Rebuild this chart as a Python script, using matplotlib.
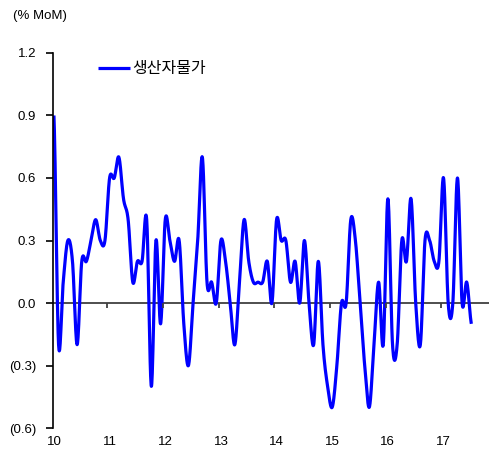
import numpy as np
import matplotlib
matplotlib.use("Agg")
import matplotlib.pyplot as plt

plt.rcParams['font.family'] = ['Liberation Sans', 'Noto Sans CJK KR']

# monthly PPI change, Jan 2010 .. Jul 2017
ppi = [0.9, -0.2, 0.1, 0.3, 0.2, -0.2, 0.2, 0.2, 0.3, 0.4, 0.3, 0.3,
       0.6, 0.6, 0.7, 0.5, 0.4, 0.1, 0.2, 0.2, 0.4, -0.4, 0.3, -0.1,
       0.4, 0.3, 0.2, 0.3, -0.1, -0.3, 0.0, 0.3, 0.7, 0.1, 0.1, 0.0,
       0.3, 0.2, 0.0, -0.2, 0.1, 0.4, 0.2, 0.1, 0.1, 0.1, 0.2, 0.0,
       0.4, 0.3, 0.3, 0.1, 0.2, 0.0, 0.3, 0.0, -0.2, 0.2, -0.2, -0.4,
       -0.5, -0.3, 0.0, 0.0, 0.4, 0.3, 0.0, -0.3, -0.5, -0.2, 0.1, -0.2,
       0.5, -0.2, -0.2, 0.3, 0.2, 0.5, 0.0, -0.2, 0.3, 0.3, 0.2, 0.2,
       0.6, 0.0, 0.0, 0.6, 0.0, 0.1, -0.1]
year_labels = ["10", "11", "12", "13", "14", "15", "16", "17"]
y_ticks = [-0.6, -0.3, 0.0, 0.3, 0.6, 0.9, 1.2]
y_labels = ["(0.6)", "(0.3)", "0.0", "0.3", "0.6", "0.9", "1.2"]
series_name = "생산자물가"
unit_label = "(% MoM)"


def smooth(y, steps=20):
    # catmull-rom curve through the points, like a "smoothed line" chart
    y = np.asarray(y, dtype=float)
    n = len(y)
    xs, ys = [], []
    for i in range(n - 1):
        p0 = y[i - 1] if i > 0 else y[i]
        p3 = y[i + 2] if i + 2 < n else y[i + 1]
        m1 = (y[i + 1] - p0) / 2
        m2 = (p3 - y[i]) / 2
        t = np.linspace(0, 1, steps, endpoint=False)
        h00 = 2 * t**3 - 3 * t**2 + 1
        h10 = t**3 - 2 * t**2 + t
        h01 = -2 * t**3 + 3 * t**2
        h11 = t**3 - t**2
        xs.append(i + t)
        ys.append(h00 * y[i] + h10 * m1 + h01 * y[i + 1] + h11 * m2)
    xs.append([n - 1])
    ys.append([y[-1]])
    return np.concatenate(xs), np.concatenate(ys)


fig = plt.figure(figsize=(4.96, 4.57), dpi=100)
ax = fig.add_axes([53 / 496, 1 - 428 / 457, 436 / 496, 375 / 457])

sx, sy = smooth(ppi)
ax.plot(sx, sy, color='#0000FF', lw=2.3, label=series_name, solid_capstyle='butt')

n = len(ppi)
ax.set_xlim(-0.2, 93.8)
ax.set_ylim(-0.6, 1.2)

# zero line with year ticks hanging below it
ax.axhline(0, color='#404040', lw=1.3, zorder=1)
year_ticks = np.arange(11.5, n, 12)
ax.vlines(year_ticks, -0.022, 0, color='#404040', lw=1.3)

ax.set_xticks(np.arange(0, n, 12))
ax.set_xticklabels(year_labels, fontsize=9.5)
ax.tick_params(axis='x', length=0, pad=6)

ax.set_yticks(y_ticks)
ax.set_yticklabels(y_labels, fontsize=9.5)
ax.tick_params(axis='y', direction='out', length=5, width=1.2, pad=7)

for side in ['top', 'right', 'bottom']:
    ax.spines[side].set_visible(False)
ax.spines['left'].set_linewidth(1.2)

fig.text(13 / 496, 1 - 16 / 457, unit_label, fontsize=9.5, va='center', ha='left')

leg = ax.legend(loc='center left', bbox_to_anchor=(90 / 496, 1 - 69 / 457),
                bbox_transform=fig.transFigure, frameon=False,
                handlelength=2.0, handletextpad=0.15, borderpad=0,
                prop={'size': 11.5, 'family': ['Noto Sans CJK KR']})

fig.savefig("out.png", dpi=100)
